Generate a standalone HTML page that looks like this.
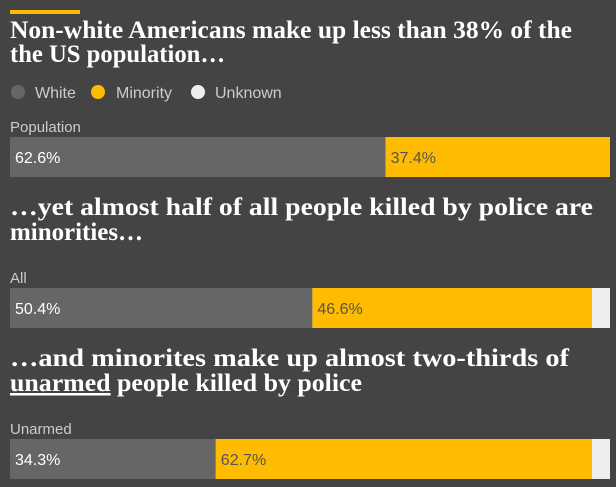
<!DOCTYPE html>
<html><head><meta charset="utf-8"><style>
body{margin:0;background:#444;}
svg{display:block;}
</style></head><body>
<svg width="616" height="487" xmlns="http://www.w3.org/2000/svg">
<rect x="0" y="0" width="616" height="487" fill="#444"/>
<rect x="10" y="10" width="70" height="4" fill="#ffbb00"/>
<g font-family="Liberation Serif, serif" font-weight="bold" font-size="25" fill="#fff">
<text x="10" y="38" textLength="562" lengthAdjust="spacingAndGlyphs">Non-white Americans make up less than 38% of the</text>
<text x="10" y="62" textLength="215" lengthAdjust="spacingAndGlyphs">the US population…</text>
<text x="10" y="215" textLength="583" lengthAdjust="spacingAndGlyphs">…yet almost half of all people killed by police are</text>
<text x="10" y="240" textLength="133" lengthAdjust="spacingAndGlyphs">minorities…</text>
<text x="10" y="366" textLength="559" lengthAdjust="spacingAndGlyphs">…and minorites make up almost two-thirds of</text>
<text x="10" y="391" textLength="352" lengthAdjust="spacingAndGlyphs"><tspan text-decoration="underline">unarmed</tspan> people killed by police</text>
</g>
<g font-family="Liberation Sans, sans-serif" font-size="16" fill="#ccc">
<circle cx="18" cy="92" r="7" fill="#666"/>
<text x="35" y="98">White</text>
<circle cx="98" cy="92" r="7" fill="#ffbb00"/>
<text x="116" y="98">Minority</text>
<circle cx="198" cy="92" r="7" fill="#eee"/>
<text x="215" y="98">Unknown</text>
</g>
<g id="bars"></g>
</svg>
<script>
const groups=["Population","All","Unarmed"];
const white=[62.6,50.4,34.3];
const minority=[37.4,46.6,62.7];
const X0=10,W=600,tops=[137,288,439],H=40;
const sx=v=>v/100*W;
const g=document.getElementById('bars');
const NS='http://www.w3.org/2000/svg';
function mk(t,a){const e=document.createElementNS(NS,t);for(const k in a)e.setAttribute(k,a[k]);g.appendChild(e);return e;}
groups.forEach((name,i)=>{
  const y=tops[i];
  const lab=mk('text',{x:10,y:y-5,'font-family':'Liberation Sans, sans-serif','font-size':15,fill:'#ccc'});
  lab.textContent=name;
  
  
  const bg=mk('rect',{x:X0,y:y,width:W,height:H,fill:'#eee'});
  
  
  const ww=sx(white[i]);
  const r1=mk('rect',{x:X0,y:y,width:ww,height:H,fill:'#666'});
  
  
  const r2=mk('rect',{x:X0+ww,y:y,width:sx(minority[i]),height:H,fill:'#ffbb00'});
  
  
  const t1=mk('text',{x:X0+5,y:y+26,'font-family':'Liberation Sans, sans-serif','font-size':16,fill:'#fff'});
  t1.textContent=white[i].toFixed(1)+'%';
  
  
  const t2=mk('text',{x:X0+ww+5,y:y+26,'font-family':'Liberation Sans, sans-serif','font-size':16,fill:'#555'});
  t2.textContent=minority[i].toFixed(1)+'%';
  
  
});
</script>
</body></html>
